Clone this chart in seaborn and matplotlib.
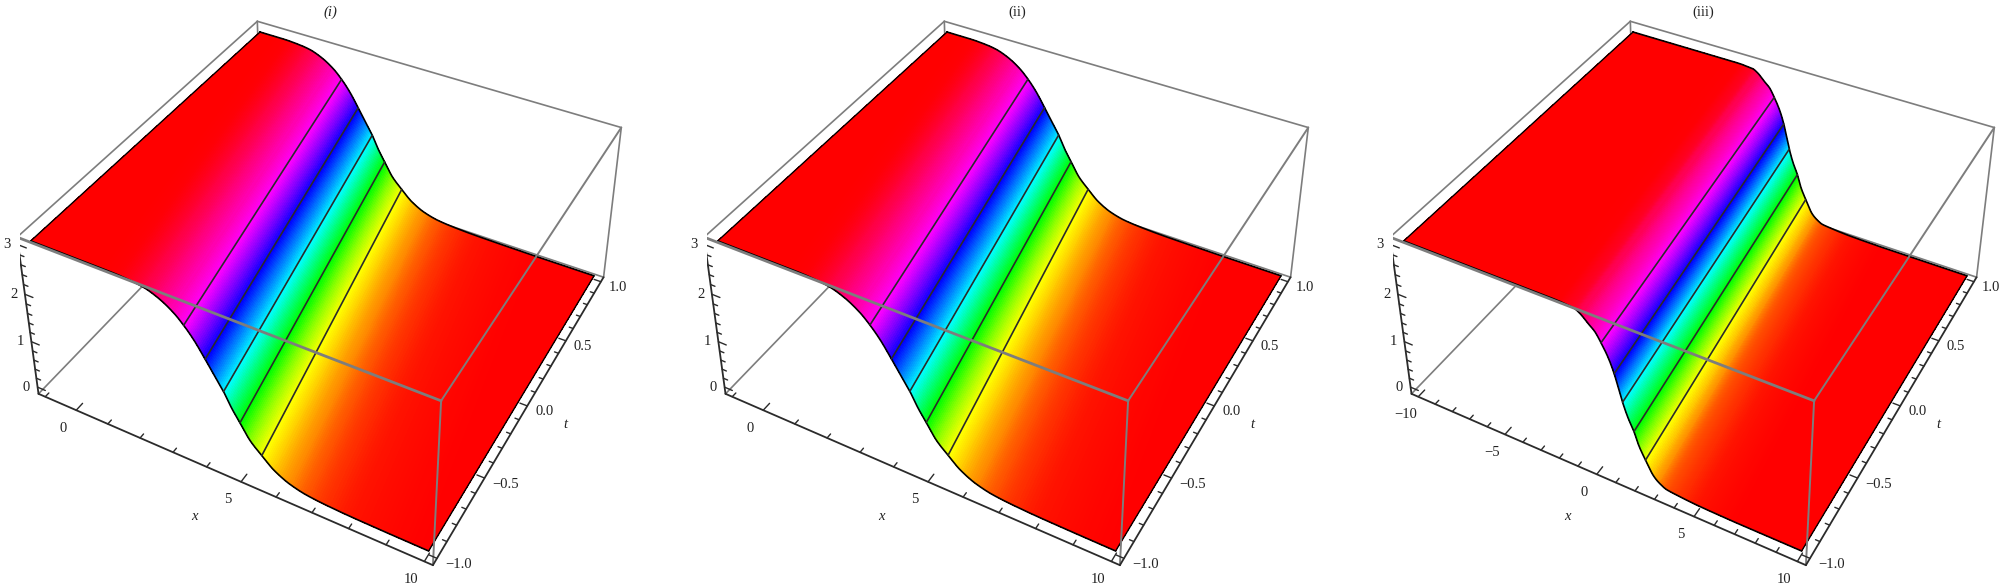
import numpy as np
import matplotlib
matplotlib.use('Agg')
import matplotlib.pyplot as plt
from matplotlib.colors import hsv_to_rgb
import seaborn as sns
from mpl_toolkits.mplot3d import proj3d

# wave profile: s is the x position on the t = -1 edge
s1 = [-1, 1, 1.5, 2.0, 2.35, 2.75, 3.15, 3.43, 3.7, 3.99, 4.21, 4.47, 4.68, 4.9, 5.18, 5.49, 5.83, 6.28, 6.75, 7.3, 8, 9, 10, 11.66]
z1 = [3.03, 3.03, 3.027, 3.005, 2.97, 2.87, 2.7, 2.52, 2.3, 2.0, 1.76, 1.48, 1.2, 0.96, 0.66, 0.45, 0.24, 0.08, 0.0, -0.035, -0.055, -0.065, -0.07, -0.07]
s2 = [-1, 1, 1.5, 2.0, 2.33, 2.73, 3.13, 3.41, 3.68, 3.97, 4.19, 4.45, 4.66, 4.88, 5.16, 5.47, 5.81, 6.26, 6.73, 7.3, 8, 9, 10, 11.66]
z2 = [3.03, 3.03, 3.027, 3.005, 2.97, 2.87, 2.7, 2.52, 2.3, 2.0, 1.76, 1.48, 1.2, 0.96, 0.66, 0.45, 0.24, 0.08, 0.0, -0.035, -0.055, -0.065, -0.07, -0.07]
s3 = [-10, -3, -1.8, -1.4, -1.0, -0.7, -0.3, 0.0, 0.3, 0.64, 0.9, 1.08, 1.27, 1.52, 1.8, 2.03, 2.35, 2.76, 3.05, 3.4, 3.8, 4.2, 5.0, 6, 7, 10, 11.7]
z3 = [3.03, 3.03, 3.027, 3.015, 3.0, 2.94, 2.8, 2.7, 2.52, 2.27, 2.0, 1.75, 1.48, 1.2, 0.96, 0.7, 0.45, 0.17, 0.07, 0.0, -0.02, -0.035, -0.055, -0.065, -0.07, -0.07, -0.07]

# how far the wave moves in x between t = -1 and t = 1
shift1 = 1.66
shift2 = 1.66
shift3 = 1.7

# surface colour read against height
hue_z = [-0.07, -0.055, -0.035, 0.0, 0.08, 0.24, 0.45, 2.52, 2.7, 2.87, 2.97, 3.0, 3.03]
hue_v = [0.0, 0.012, 0.03, 0.055, 0.09, 0.13, 0.167, 0.833, 0.875, 0.92, 0.955, 0.975, 1.0]

mesh_z = [2.52, 2.0, 1.48, 0.96, 0.45]
mesh_s1 = [3.43, 3.99, 4.47, 4.9, 5.49]
mesh_s2 = [3.41, 3.97, 4.45, 4.88, 5.47]
mesh_s3 = [0.3, 0.9, 1.27, 1.8, 2.35]

titles = ['(i)', '(ii)', '(iii)']
x_range1 = (-1, 10)
x_range3 = (-10, 10)
x_labels1 = [0, 5, 10]
x_labels3 = [-10, -5, 0, 5, 10]
x_ticks1 = list(range(-1, 11))
x_ticks3 = list(range(-10, 11))
z_labels = [0, 1, 2, 3]
z_ticks = [0, 0.2, 0.4, 0.6, 0.8, 1, 1.2, 1.4, 1.6, 1.8, 2, 2.2, 2.4, 2.6, 2.8, 3]
t_labels = [-1.0, -0.5, 0.0, 0.5, 1.0]
t_ticks = [-1, -0.9, -0.8, -0.7, -0.6, -0.5, -0.4, -0.3, -0.2, -0.1, 0, 0.1, 0.2, 0.3, 0.4, 0.5, 0.6, 0.7, 0.8, 0.9, 1]

sns.set_theme(style='white')
SERIF = 'Liberation Serif'
GREY = '#7d7d7d'
DARK = '#2b2b2b'
FS = 10.5

fig = plt.figure(figsize=(20, 5.88), dpi=100)
W, H = 2000, 588


def label(ax, M, p, s, dx, dy, ha='center'):
    u, v, _ = proj3d.proj_transform(p[0], p[1], p[2], M)
    ax.annotate(s.replace('-', '\u2212'), (u, v), xytext=(dx, dy), textcoords='offset pixels',
                family=SERIF, fontsize=FS, color='#222222', ha=ha, va='center', annotation_clip=False)


def refine(s, z, n=10):
    # monotone curve through the values read, only so the facets shade smoothly
    h = np.diff(s)
    d = np.diff(z) / h
    m = np.zeros_like(s)
    both = d[:-1] * d[1:] > 0
    m[1:-1][both] = 2 * d[:-1][both] * d[1:][both] / (d[:-1][both] + d[1:][both])
    fs, fz = [], []
    for i in range(len(h)):
        u = np.linspace(0, 1, n, endpoint=False)
        fs.append(s[i] + u * h[i])
        fz.append((2 * u**3 - 3 * u**2 + 1) * z[i] + (u**3 - 2 * u**2 + u) * h[i] * m[i]
                  + (3 * u**2 - 2 * u**3) * z[i + 1] + (u**3 - u**2) * h[i] * m[i + 1])
    return np.concatenate(fs + [s[-1:]]), np.concatenate(fz + [z[-1:]])


def panel(offset, s, z, shift, mesh_s, x_range, x_ticks, x_labels, title, title_style):
    ax = fig.add_subplot(projection='3d', computed_zorder=False)
    s = np.array(s, float)
    z = np.array(z, float)
    pad = (x_range[1] - x_range[0]) * 0.02
    xb = (x_range[0] - pad, x_range[1] + pad)
    tb = (-1.04, 1.04)
    zb = (-0.15, 3.15)
    ax.set_xlim(xb)
    ax.set_ylim(tb)
    ax.set_zlim(zb)
    ax.set_box_aspect((1.0003, 1, 0.3916))
    ax.view_init(35.8, -61.51)
    ax.set_proj_type('persp', focal_length=0.4464)
    ax.set_axis_off()

    # camera scale found by fitting the box corners to the reference
    ax.apply_aspect = lambda position=None: None
    ax_, bx = 3308.8, 334.0 + offset
    ay, by = 3710.1, 258.8
    vx0, vx1 = ax.viewLim.intervalx
    vy0, vy1 = ax.viewLim.intervaly
    left = ax_ * vx0 + bx
    right = ax_ * vx1 + bx
    top = by - ay * vy1
    bottom = by - ay * vy0
    ax.set_position([left / W, 1 - bottom / H, (right - left) / W, (bottom - top) / H])

    fine, fz = refine(s, z)
    front = np.clip(fine, *x_range)
    back = np.clip(fine - shift, *x_range)
    X = np.vstack([front, back])
    T = np.vstack([np.full_like(fine, -1.0), np.full_like(fine, 1.0)])
    Z = np.vstack([fz, fz])
    h = np.interp(Z, hue_z, hue_v)
    colors = hsv_to_rgb(np.dstack([h, np.ones_like(h), np.ones_like(h)]))
    ax.plot_surface(X, T, Z, facecolors=colors, shade=False, rstride=1, cstride=1,
                    linewidth=0, antialiased=False, zorder=2)

    # surface outline and mesh lines
    ax.plot(front, [-1] * len(fine), fz, color='black', lw=1.2, zorder=3)
    ax.plot(back, [1] * len(fine), fz, color='black', lw=1.2, zorder=3)
    ax.plot([x_range[0]] * 2, [-1, 1], [z[0]] * 2, color='black', lw=1.0, zorder=3)
    ax.plot([x_range[1]] * 2, [-1, 1], [z[-1]] * 2, color='black', lw=1.0, zorder=3)
    for ms, mz in zip(mesh_s, mesh_z):
        ax.plot([ms, ms - shift], [-1, 1], [mz, mz], color=DARK, lw=1.2, zorder=3)

    # box, back edges first
    x0, x1 = xb
    t0, t1 = tb
    z0, z1_ = zb
    back_edges = [((x0, t1, z1_), (x1, t1, z1_)), ((x0, t1, z1_), (x0, t0, z1_)), ((x1, t1, z1_), (x1, t1, z0)),
                  ((x0, t0, z0), (x0, t1, z0)), ((x0, t1, z0), (x1, t1, z0)), ((x0, t1, z0), (x0, t1, z1_))]
    for a, b in back_edges:
        ax.plot(*zip(a, b), color=GREY, lw=1.2, zorder=1)
    front_edges = [((x0, t0, z1_), (x1, t0, z1_), 2.0), ((x1, t0, z1_), (x1, t1, z1_), 1.4), ((x1, t0, z1_), (x1, t0, z0), 1.4)]
    for a, b, lw in front_edges:
        ax.plot(*zip(a, b), color=GREY, lw=lw, zorder=4)
    axis_edges = [((x0, t0, z0), (x1, t0, z0)), ((x0, t0, z0), (x0, t0, z1_)), ((x1, t0, z0), (x1, t1, z0))]
    for a, b in axis_edges:
        ax.plot(*zip(a, b), color=DARK, lw=1.3, zorder=5)

    # ticks, pointing into the box
    xspan = x1 - x0
    for v in x_ticks:
        ln = 0.05 if v in x_labels else 0.028
        ax.plot([v, v], [t0, t0 + ln], [z0, z0], color=DARK, lw=1.0, zorder=5)
    for v in z_ticks:
        ln = 0.022 if v in z_labels else 0.012
        ax.plot([x0, x0 + ln * xspan], [t0, t0], [v, v], color=DARK, lw=1.0, zorder=5)
    for v in t_ticks:
        ln = 0.018 if v in t_labels else 0.01
        ax.plot([x1, x1 - ln * xspan], [v, v], [z0, z0], color=DARK, lw=1.0, zorder=5)

    M = ax.get_proj()
    for v in x_labels:
        label(ax, M, (v, t0, z0), str(v), -13, -18)
    for v in z_labels:
        label(ax, M, (x0, t0, v), str(v), -11, 0)
    for v in t_labels:
        label(ax, M, (x1, v, z0), f'{v:.1f}', 8, -6, ha='left')

    fig.text((330 + offset) / W, 1 - 12 / H, title, family=SERIF, fontsize=FS, style=title_style,
             ha='center', va='center', color='#222222')
    fig.text((194 + offset) / W, 1 - 517 / H, 'x', family=SERIF, fontsize=FS, style='italic',
             ha='center', va='center', color='#222222')
    fig.text((565 + offset) / W, 1 - 424 / H, 't', family=SERIF, fontsize=FS, style='italic',
             ha='center', va='center', color='#222222')


panel(0, s1, z1, shift1, mesh_s1, x_range1, x_ticks1, x_labels1, titles[0], 'italic')
panel(687, s2, z2, shift2, mesh_s2, x_range1, x_ticks1, x_labels1, titles[1], 'normal')
panel(1373, s3, z3, shift3, mesh_s3, x_range3, x_ticks3, x_labels3, titles[2], 'normal')

fig.savefig('out.png', dpi=100)
